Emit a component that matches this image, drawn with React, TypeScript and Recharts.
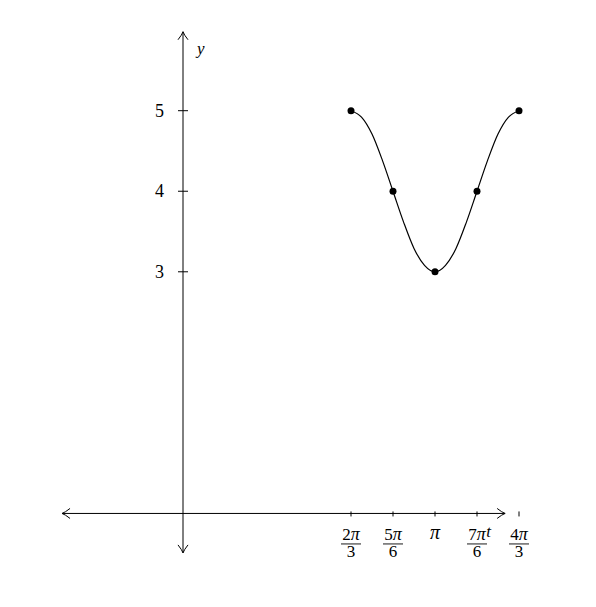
import { LineChart, Line, XAxis, YAxis, ReferenceLine, ReferenceDot } from 'recharts'

// x values are in multiples of π/6
const curveX = [4, 4.25, 4.5, 4.75, 5, 5.25, 5.5, 5.75, 6, 6.25, 6.5, 6.75, 7, 7.25, 7.5, 7.75, 8]
const curveY = [5, 4.92, 4.71, 4.38, 4, 3.62, 3.29, 3.08, 3, 3.08, 3.29, 3.62, 4, 4.38, 4.71, 4.92, 5]
const pointX = [4, 5, 6, 7, 8]
const pointY = [5, 4, 3, 4, 5]
const xTickX = [4, 5, 6, 7, 8]
const xTickNum = ['2', '5', '', '7', '4']
const xTickDen = ['3', '6', '', '6', '3']
const yTicks = [3, 4, 5]

const curve = curveX.map((x, i) => ({ x, y: curveY[i] }))
const points = pointX.map((x, i) => ({ x, y: pointY[i] }))

const FONT = '"Liberation Serif", "DejaVu Serif", serif'

function head(tx: number, ty: number, fx: number, fy: number) {
  const dx = tx - fx
  const dy = ty - fy
  const len = Math.hypot(dx, dy) || 1
  const ux = dx / len
  const uy = dy / len
  const px = -uy
  const py = ux
  const bx = tx - ux * 8
  const by = ty - uy * 8
  return (
    <path
      d={`M ${bx + px * 5} ${by + py * 5} Q ${tx - ux * 3 + px * 1} ${ty - uy * 3 + py * 1} ${tx} ${ty} Q ${tx - ux * 3 - px * 1} ${ty - uy * 3 - py * 1} ${bx - px * 5} ${by - py * 5}`}
      fill="none"
      stroke="#000"
      strokeWidth={1}
    />
  )
}

function axisShape(label: string, lx: number, ly: number) {
  return (props: any) => {
    const { x1, y1, x2, y2 } = props
    return (
      <g>
        <line x1={x1} y1={y1} x2={x2} y2={y2} stroke="#000" strokeWidth={1} />
        {head(x1, y1, x2, y2)}
        {head(x2, y2, x1, y1)}
        <text x={x2 + lx} y={y2 + ly} fontFamily={FONT} fontStyle="italic" fontSize={17} fill="#000">
          {label}
        </text>
      </g>
    )
  }
}

function xTick(i: number) {
  return (props: any) => {
    const { cx, cy } = props
    const den = xTickDen[i]
    return (
      <g>
        <line x1={cx} y1={cy - 2} x2={cx} y2={cy + 3} stroke="#000" strokeWidth={1} />
        {den ? (
          <g fontFamily={FONT} fontSize={17} fill="#000" textAnchor="middle">
            <text x={cx} y={cy + 27}>
              {xTickNum[i]}
              <tspan fontStyle="italic" fontSize={18}>π</tspan>
            </text>
            <line x1={cx - 10} y1={cy + 30.5} x2={cx + 10} y2={cy + 30.5} stroke="#000" strokeWidth={0.9} />
            <text x={cx} y={cy + 44}>{den}</text>
          </g>
        ) : (
          <text x={cx} y={cy + 26} fontFamily={FONT} fontStyle="italic" fontSize={20} fill="#000" textAnchor="middle">
            π
          </text>
        )}
      </g>
    )
  }
}

function yTick(v: number) {
  return (props: any) => {
    const { cx, cy } = props
    return (
      <g>
        <line x1={cx - 5} y1={cy} x2={cx + 5} y2={cy} stroke="#000" strokeWidth={1} />
        <text x={cx - 19} y={cy + 6} fontFamily={FONT} fontSize={18} fill="#000" textAnchor="end">
          {v}
        </text>
      </g>
    )
  }
}

export default function App() {
  return (
    <div style={{ position: 'absolute', left: 0, top: 0, background: '#fff' }}>
      <LineChart width={596} height={607} margin={{ top: 10, right: 35, bottom: 13, left: 36 }}>
        <XAxis type="number" dataKey="x" domain={[-3.5, 9]} allowDataOverflow hide />
        <YAxis type="number" dataKey="y" domain={[-1, 6.25]} allowDataOverflow hide />
        <ReferenceLine
          segment={[{ x: -2.88, y: 0 }, { x: 7.67, y: 0 }]}
          shape={axisShape('t', -19, 24)}
        />
        <ReferenceLine
          segment={[{ x: 0, y: -0.49 }, { x: 0, y: 5.98 }]}
          shape={axisShape('y', 14, 22)}
        />
        {xTickX.map((x, i) => (
          <ReferenceDot key={'xt' + i} x={x} y={0} r={0} shape={xTick(i)} />
        ))}
        {yTicks.map((v) => (
          <ReferenceDot key={'yt' + v} x={0} y={v} r={0} shape={yTick(v)} />
        ))}
        <Line
          data={curve}
          dataKey="y"
          type="monotone"
          stroke="#000"
          strokeWidth={1.2}
          dot={false}
          isAnimationActive={false}
        />
        <Line
          data={points}
          dataKey="y"
          stroke="none"
          dot={{ r: 3.5, fill: '#000', stroke: 'none' }}
          isAnimationActive={false}
        />
      </LineChart>
    </div>
  )
}
